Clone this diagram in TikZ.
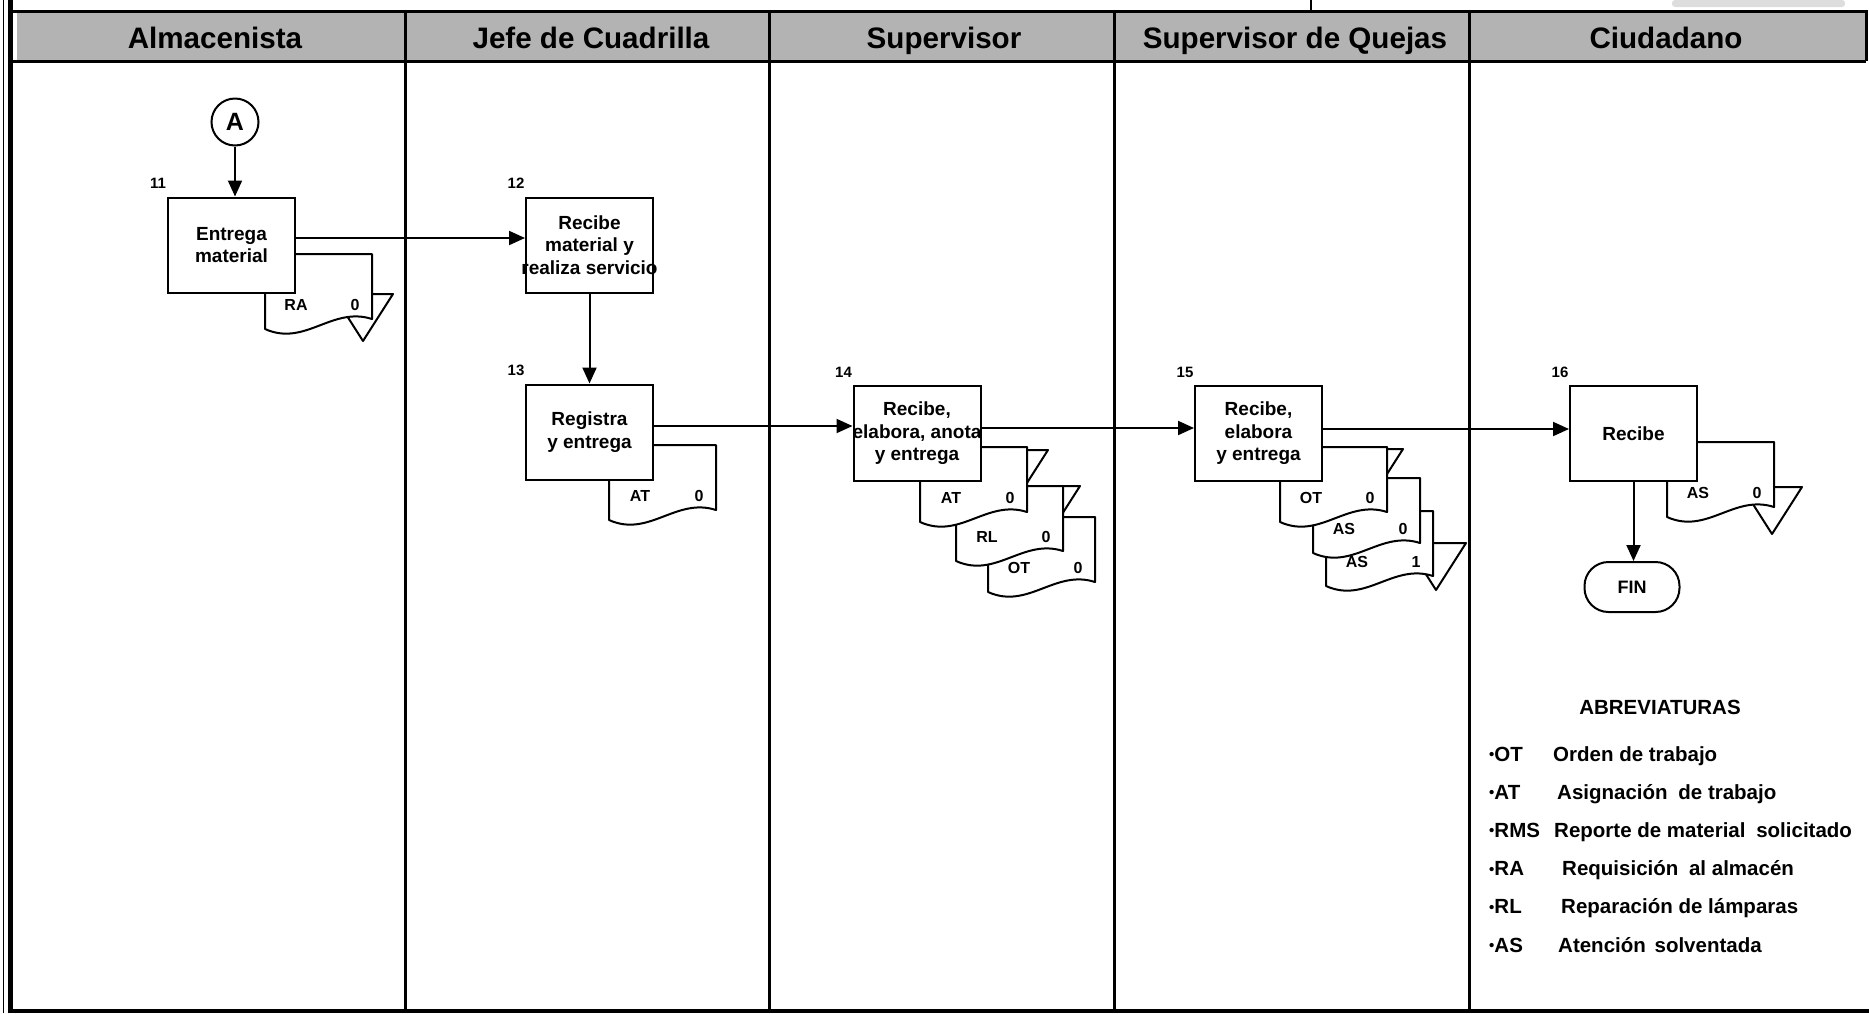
\documentclass[tikz,border=0pt]{standalone}
\usepackage{fontspec}
\setmainfont{Liberation Sans}
\usetikzlibrary{arrows.meta}
\definecolor{band}{HTML}{B3B3B3}
\definecolor{smudge}{HTML}{DDDDDD}
\newcommand{\archivo}[2]{%
  \draw[docline] (#1,#2) -- ({#1-60},#2) -- ({#1-30},{#2+47}) -- cycle;}
\newcommand{\docu}[5]{%
  \draw[docline] (#2,#3) -- ({#2+107},#3) -- ({#2+107},{#3+65})
    .. controls ({#2+67},{#3+52}) and ({#2+40},{#3+93}) .. (#2,{#3+75}) -- cycle;
  \node[doctext] (#1lab) at ({#2+31},{#3+51}) {#4};
  \node[doctext] (#1num) at ({#2+90},{#3+51}) {#5};}

\begin{document}
\begin{tikzpicture}[x=1pt,y=-1pt,
  box/.style={draw,line width=2pt,fill=white,minimum width=127pt,minimum height=95pt,
    inner sep=0pt,align=center,font=\fontsize{19}{22.5}\selectfont\bfseries},
  docline/.style={draw,line width=2pt,fill=white,line join=round},
  doctext/.style={inner sep=0pt,font=\fontsize{16}{16}\selectfont\bfseries},
  stepnum/.style={inner sep=0pt,font=\fontsize{15}{15}\selectfont\bfseries},
  lanehead/.style={anchor=base,inner sep=0pt,font=\fontsize{29.6}{30}\selectfont\bfseries},
  lane/.style={line width=3pt},
  flow/.style={line width=2pt,-{Triangle[length=16pt,width=14pt]}},
  abbr/.style={anchor=base west,inner sep=0pt,font=\fontsize{20.5}{22}\selectfont\bfseries}]
\useasboundingbox (0,0) rectangle (1869,1013);
\fill[smudge,rounded corners=3pt] (1672,0) rectangle (1845,7);
\draw[line width=2pt] (1311,0) -- (1311,11);
\fill[band] (17,11) rectangle (1866,61);
\draw[lane] (10,11) -- (1866,11) -- (1866,61);
\draw[lane] (10,61) -- (1866,61);
\foreach \xx in {405,769,1114,1469}
  \draw[lane] (\xx,11) -- (\xx,1011);
\draw[line width=1.5pt] (3.5,0) -- (3.5,1013);
\draw[line width=5pt] (10.5,0) -- (10.5,1013);
\draw[line width=4pt] (8,1011) -- (1869,1011);
\foreach \lbl/\xx [count=\i] in {Almacenista/215,Jefe de Cuadrilla/591,Supervisor/944,
  Supervisor de Quejas/1295,Ciudadano/1666}
  \node[lanehead] (h\i) at (\xx,48) {\lbl};

\node[draw,circle,line width=2pt,minimum size=47pt,inner sep=0pt,
  font=\fontsize{25}{25}\selectfont\bfseries] (A) at (235,122) {A};

\archivo{393}{294}
\docu{ra}{265}{254}{RA}{0}
\docu{atj}{609}{445}{AT}{0}
\docu{ots}{988}{517}{OT}{0}
\archivo{1080}{486}
\docu{rls}{956}{486}{RL}{0}
\archivo{1048}{450}
\docu{ats}{920}{447}{AT}{0}
\archivo{1466}{543}
\docu{asqb}{1326}{511}{AS}{1}
\docu{asq}{1313}{478}{AS}{0}
\archivo{1403}{449}
\docu{otq}{1280}{447}{OT}{0}
\archivo{1802}{487}
\docu{asc}{1667}{442}{AS}{0}

\node[box] (b11) at (231.5,245) {Entrega\\material};
\node[box] (b12) at (589.5,245) {Recibe\\material y\\\makebox[0pt]{realiza servicio}};
\node[box] (b13) at (589.5,432) {Registra\\y entrega};
\node[box] (b14) at (917,433.5) {Recibe,\\\makebox[0pt]{elabora, anota}\\y entrega};
\node[box] (b15) at (1258.5,433.5) {Recibe,\\elabora\\y entrega};
\node[box] (b16) at (1633.5,433.5) {Recibe};
\node[draw,line width=2pt,rounded corners=24pt,minimum width=95pt,minimum height=50pt,
  inner sep=0pt,font=\fontsize{18}{18}\selectfont\bfseries] (fin) at (1632,587) {FIN};
\foreach \n in {11,...,16}
  \node[stepnum] (n\n) at ([xshift=-9pt,yshift=13pt]b\n.north west) {\n};

\draw[flow] (A) -- (A |- b11.north);
\coordinate (s1) at ([yshift=7pt]b11.east);
\draw[flow] (s1) -- (s1 -| b12.west);
\draw[flow] (b12) -- (b13);
\coordinate (s2) at ([yshift=6pt]b13.east);
\draw[flow] (s2) -- (s2 -| b14.west);
\coordinate (s3) at ([yshift=5.5pt]b14.east);
\draw[flow] (s3) -- (s3 -| b15.west);
\coordinate (s4) at ([yshift=4.5pt]b15.east);
\draw[flow] (s4) -- (s4 -| b16.west);
\draw[flow] (b16.south) -- (b16.south |- fin.north);

\node[abbr,anchor=base] (abr) at (1660,714) {ABREVIATURAS};
\foreach \ab/\tx/\xx [count=\i] in {OT/Orden de trabajo/1553,
  AT/Asignación\hspace{5pt} de trabajo/1557,
  RMS/Reporte de material\hspace{5pt} solicitado/1554,
  RA/Requisición\hspace{5pt} al almacén/1562,
  RL/Reparación de lámparas/1561,
  AS/Atención\hspace{3pt} solventada/1558}{
  \node[abbr] (ab\i) at (1489,{761+38.2*(\i-1)}) {\raisebox{1.5pt}{\fontsize{15}{15}\selectfont •}\ab};
  \node[abbr] (ds\i) at (\xx,{761+38.2*(\i-1)}) {\tx};
}
\end{tikzpicture}
\end{document}
